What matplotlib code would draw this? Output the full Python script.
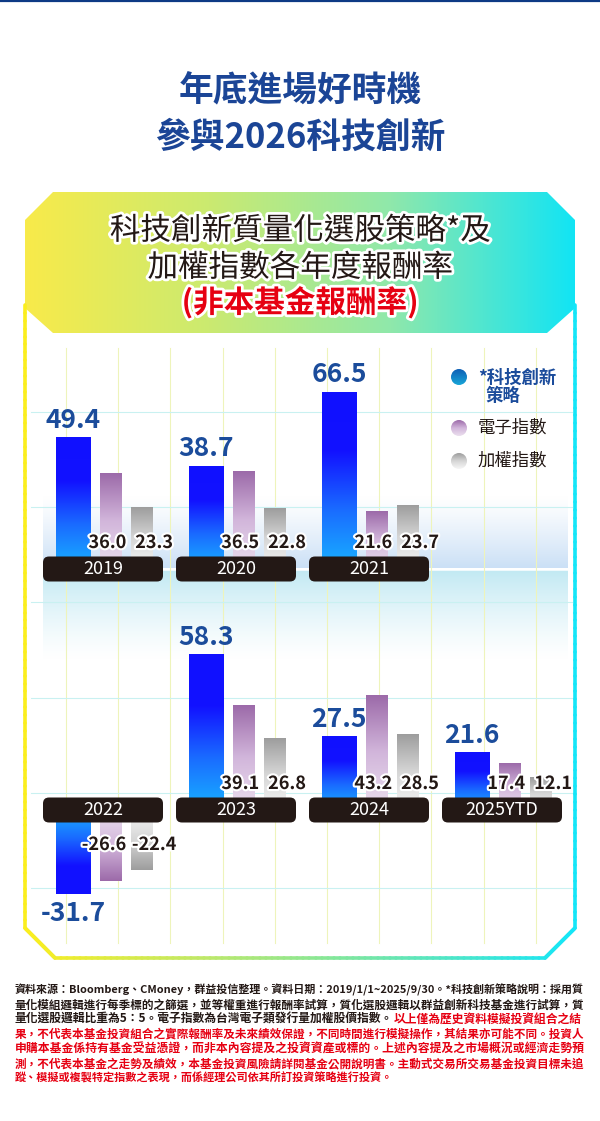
import numpy as np
import matplotlib
matplotlib.use("Agg")
import matplotlib.pyplot as plt
import matplotlib.patheffects as pe
from matplotlib.colors import LinearSegmentedColormap
from matplotlib.patches import Polygon, Circle, FancyBboxPatch
from matplotlib.collections import LineCollection

plt.rcParams["font.family"] = ["Noto Sans CJK TC", "DejaVu Sans"]

# ---- datos ----
years_top = ["2019", "2020", "2021"]
strategy_top = [49.4, 38.7, 66.5]
electronic_top = [36.0, 36.5, 21.6]
taiex_top = [23.3, 22.8, 23.7]

years_bot = ["2022", "2023", "2024", "2025YTD"]
strategy_bot = [-31.7, 58.3, 27.5, 21.6]
electronic_bot = [-26.6, 39.1, 43.2, 17.4]
taiex_bot = [-22.4, 26.8, 28.5, 12.1]

series_names = ["*科技創新\n策略", "電子指數", "加權指數"]

title_lines = ["年底進場好時機", "參與2026科技創新"]
header_lines = ["科技創新質量化選股策略*及", "加權指數各年度報酬率"]
header_red = "(非本基金報酬率)"

note_lines = [
    ("資料來源：Bloomberg、CMoney，群益投信整理。資料日期：2019/1/1~2025/9/30。*科技創新策略說明：採用質", ""),
    ("量化模組邏輯進行每季標的之篩選，並等權重進行報酬率試算，質化選股邏輯以群益創新科技基金進行試算，質", ""),
    ("量化選股邏輯比重為5：5。電子指數為台灣電子類發行量加權股價指數。", "以上僅為歷史資料模擬投資組合之結"),
    ("", "果，不代表本基金投資組合之實際報酬率及未來績效保證，不同時間進行模擬操作，其結果亦可能不同。投資人"),
    ("", "申購本基金係持有基金受益憑證，而非本內容提及之投資資產或標的。上述內容提及之市場概況或經濟走勢預"),
    ("", "測，不代表本基金之走勢及績效，本基金投資風險請詳閱基金公開說明書。主動式交易所交易基金投資目標未追"),
    ("", "蹤、模擬或複製特定指數之表現，而係經理公司依其所訂投資策略進行投資。"),
]

# ---- colores ----
DARK = "#231815"
BLUE_TXT = "#1b4c9b"
RED = "#e60012"
cm_blue = LinearSegmentedColormap.from_list("b", ["#18b2ff", "#1a6cff", "#1212ff", "#1010ff"])
cm_purple = LinearSegmentedColormap.from_list("p", ["#ebdfee", "#d2b6db", "#9c6aa9"])
cm_gray = LinearSegmentedColormap.from_list("g", ["#f6f6f6", "#d6d6d6", "#9d9d9d"])
cm_blue_dot = LinearSegmentedColormap.from_list("bd", ["#18a6d8", "#0f5fb5"])
bar_cmaps = [cm_blue, cm_purple, cm_gray]
dot_cmaps = [cm_blue_dot, cm_purple, cm_gray]

W, H = 600, 1121
S = 2.66      # pixeles por punto porcentual
GP = 133      # pixeles entre grupos
GX0 = 103     # centro del primer grupo

fig = plt.figure(figsize=(6, 11.21), dpi=100)
bg = fig.add_axes([0, 0, 1, 1])
bg.axis("off")

grad = np.linspace(0, 1, 256)

# linea superior
bg.plot([0, W], [1, 1], color="#0d3a85", lw=1.6, zorder=3)

# titulo
for i, s in enumerate(title_lines):
    bg.text(300, 91 + i * 46, s, ha="center", va="center", fontsize=25,
            fontweight="bold", color="#1b4596")

# cabecera con degradado
hdr = Polygon([(25, 220), (53, 192), (547, 192), (575, 220), (575, 308),
               (547, 333), (53, 333), (25, 308)], closed=True,
              facecolor="none", edgecolor="none")
bg.add_patch(hdr)
cm_hdr = LinearSegmentedColormap.from_list("h", ["#f8eb4a", "#cbea70", "#8fe8ab", "#12e4f4"])
bg.imshow(grad.reshape(1, -1), extent=(25, 575, 333, 192), cmap=cm_hdr,
          aspect="auto", clip_path=hdr, zorder=1)

glow = [pe.withStroke(linewidth=4, foreground="white")]
for i, s in enumerate(header_lines):
    bg.text(300, 231 + i * 37, s, ha="center", va="center", fontsize=22,
            color=DARK, path_effects=glow, zorder=4)
bg.text(300, 303, header_red, ha="center", va="center", fontsize=22,
        fontweight="bold", color=RED, path_effects=glow, zorder=4)

# marco
cm_frame = LinearSegmentedColormap.from_list("f", ["#fbee1e", "#bde86a", "#6ae6b0", "#14e6f8"])
pts = [(25, 305), (25, 928), (55, 958), (545, 958), (575, 928), (575, 305)]
segs, xs = [], []
for (x0, y0), (x1, y1) in zip(pts[:-1], pts[1:]):
    t = np.linspace(0, 1, 80)
    px, py = x0 + (x1 - x0) * t, y0 + (y1 - y0) * t
    for k in range(len(t) - 1):
        segs.append([(px[k], py[k]), (px[k + 1], py[k + 1])])
        xs.append((px[k] + px[k + 1]) / 2)
lc = LineCollection(segs, colors=cm_frame((np.array(xs) - 25) / 550),
                    linewidths=2.6, capstyle="round", zorder=3)
bg.add_collection(lc)

# banda de fondo (origin lower: fila 0 en el valor "bottom" del extent)
cm_band1 = LinearSegmentedColormap.from_list("b1", ["#ffffff", "#cbe0f6"])
cm_band2 = LinearSegmentedColormap.from_list("b2", ["#ffffff", "#c2e9f3"])
bg.imshow((grad[::-1] ** 1.2).reshape(-1, 1), extent=(43, 568, 568, 496),
          origin="lower", cmap=cm_band1, vmin=0, vmax=1, aspect="auto", zorder=1)
bg.imshow((grad ** 1.3).reshape(-1, 1), extent=(43, 568, 660, 570),
          origin="lower", cmap=cm_band2, vmin=0, vmax=1, aspect="auto", zorder=1)
bg.plot([43, 568], [569, 569], color="white", lw=1.8, zorder=1.5)

# cuadricula decorativa
for gx in np.arange(66, 540, 52.2):
    bg.plot([gx, gx], [348, 943], color="#eef4bb", lw=0.8, zorder=2)
for gy in np.arange(412, 890, 95.2):
    bg.plot([31, 572], [gy, gy], color="#c9f1f1", lw=0.8, zorder=2)

# leyenda
leg_y = [377, 428, 461]
for k in range(3):
    c = Circle((459, leg_y[k]), 8, facecolor="none", edgecolor="none")
    bg.add_patch(c)
    bg.imshow(grad[::-1].reshape(-1, 1), extent=(451, 467, leg_y[k] + 8, leg_y[k] - 8),
              origin="upper", cmap=dot_cmaps[k], aspect="auto", clip_path=c, zorder=4)
bg.text(478, 378, "*科技創新", ha="left", va="center", fontsize=12.5,
        fontweight="bold", color=BLUE_TXT)
bg.text(485, 396, "策略", ha="left", va="center", fontsize=12.5,
        fontweight="bold", color=BLUE_TXT)
bg.text(478, 428, series_names[1], ha="left", va="center", fontsize=12.5, color=DARK)
bg.text(478, 461, series_names[2], ha="left", va="center", fontsize=12.5, color=DARK)

bg.set_xlim(0, W)
bg.set_ylim(H, 0)

# ---- paneles de barras ----
offsets = [-30 / GP, 8 / GP, 39 / GP]
widths = [35 / GP, 22 / GP, 22 / GP]
halo = [pe.withStroke(linewidth=3, foreground="white")]


def panel(top_px, bot_px, zero_px, years, values):
    ax = fig.add_axes([0, 1 - bot_px / H, 1, (bot_px - top_px) / H])
    ax.patch.set_visible(False)
    ax.axis("off")
    x = np.arange(len(years))
    for k, vals in enumerate(values):
        bars = ax.bar(x + offsets[k], vals, widths[k], color="none",
                      edgecolor="none", zorder=3)
        for b in bars:
            bx, by = b.get_x(), b.get_y()
            bw, bh = b.get_width(), b.get_height()
            arr = grad if bh >= 0 else grad[::-1]
            ax.imshow(arr.reshape(-1, 1),
                      extent=(bx, bx + bw, min(by, by + bh), max(by, by + bh)),
                      origin="lower", cmap=bar_cmaps[k], aspect="auto",
                      clip_path=b, zorder=3)
        for xi, v in zip(x, vals):
            if k == 0:
                dy = 10 if v >= 0 else -27
                ax.annotate(f"{v:.1f}", (xi + offsets[k], v), xytext=(0, dy * 0.72),
                            textcoords="offset points", ha="center", va="baseline",
                            fontsize=19, fontweight="bold", color=BLUE_TXT, zorder=7)
            else:
                dy = 21 if v >= 0 else -40
                if k == 1:
                    xt, ha = (xi + offsets[k] + widths[k] / 2, 4), "right"
                else:
                    xt, ha = (xi + offsets[k], 12), "center"
                ax.annotate(f"{v:.1f}", (xt[0], 0), xytext=(xt[1] * 0.72, dy * 0.72),
                            textcoords="offset points", ha=ha, va="baseline",
                            fontsize=13, fontweight="bold", color=DARK,
                            path_effects=halo, zorder=7)
    bw_, bh_ = 120 / GP, 25 / S
    for xi, yr in zip(x, years):
        box = FancyBboxPatch((xi - bw_ / 2, -bh_ / 2), bw_, bh_,
                             boxstyle=f"round,pad=0,rounding_size={6 / GP}",
                             mutation_aspect=GP / S, facecolor=DARK,
                             edgecolor="none", zorder=5)
        ax.add_patch(box)
        ax.text(xi, 0, yr, ha="center", va="center", fontsize=13,
                color="white", zorder=6)
    ax.set_xlim(-GX0 / GP, (W - GX0) / GP)
    ax.set_ylim(-(bot_px - zero_px) / S, (zero_px - top_px) / S)
    return ax


panel(340, 600, 569, years_top, [strategy_top, electronic_top, taiex_top])
panel(600, 945, 810, years_bot, [strategy_bot, electronic_bot, taiex_bot])

# ---- notas al pie ----
fig.canvas.draw()
rend = fig.canvas.get_renderer()
note_y = [990, 1005, 1019.5, 1034, 1049, 1064, 1078.5]
x_left, full_w, base_fs = 15, 569, 8
for i, (black, red) in enumerate(note_lines):
    parts = []
    if black:
        parts.append(bg.text(x_left, note_y[i], black, ha="left", va="center",
                             fontsize=base_fs, fontweight="bold", color=DARK))
    if red:
        parts.append(bg.text(x_left, note_y[i], red, ha="left", va="center",
                             fontsize=base_fs, fontweight="bold", color=RED))
    if i < len(note_lines) - 1:
        tot = sum(p.get_window_extent(rend).width for p in parts)
        fs = base_fs * min(max(full_w / tot, 0.85), 1.15)
        for p in parts:
            p.set_fontsize(fs)
    if len(parts) == 2:
        w1 = parts[0].get_window_extent(rend).width
        parts[1].set_x(x_left + w1)

fig.savefig("out.png", dpi=100, facecolor="white")
